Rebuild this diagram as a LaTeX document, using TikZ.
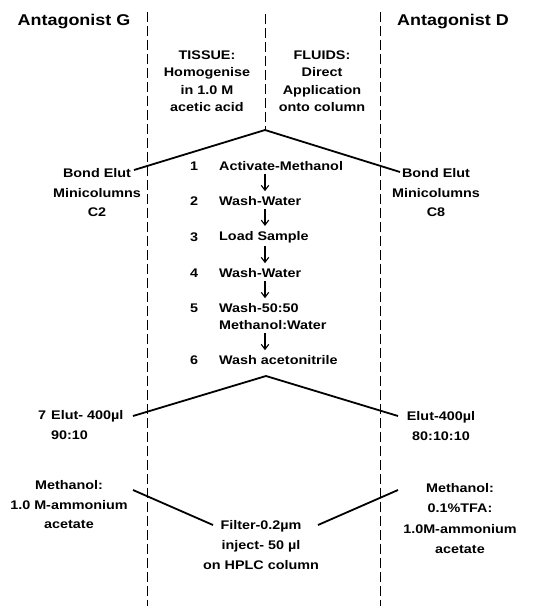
\documentclass[tikz,border=0pt]{standalone}
\usepackage{fontspec}
\setmainfont{Liberation Sans}[FakeStretch=1.15]
\usetikzlibrary{arrows.meta}

\begin{document}
\begin{tikzpicture}[x=1pt,y=-1pt,
  head/.style={font=\fontsize{15.6}{18}\selectfont\bfseries, inner sep=1pt},
  lbl/.style={font=\fontsize{12.5}{17.5}\selectfont\bfseries, inner sep=1pt, align=center},
  side/.style={font=\fontsize{12.5}{20}\selectfont\bfseries, inner sep=1pt, align=center},
  stepno/.style={font=\fontsize{12.5}{14}\selectfont\bfseries, inner sep=1pt},
  steptxt/.style={font=\fontsize{12.5}{17}\selectfont\bfseries, inner sep=3pt, anchor=west, align=left},
  divider/.style={line width=1pt, dash pattern=on 10pt off 4pt},
  roof/.style={line width=1.8pt, line join=miter},
  flowarr/.style={line width=1.1pt, shorten >=2pt, -{Straight Barb[length=5pt,width=7.5pt,line width=1.1pt]}}]
\useasboundingbox (0,0) rectangle (543,606);

% column dividers
\draw[divider] (147,12) -- (147,606);
\draw[divider] (380,12) -- (380,606);
\coordinate (topA) at (265,130);
\draw[divider] (265,14) -- (topA);

% headings
\node[head] (antG) at (74,21) {Antagonist G};
\node[head] (antD) at (453,21) {Antagonist D};
\node[lbl] (tissue) at (207,81) {TISSUE:\\Homogenise\\in 1.0 M\\acetic acid};
\node[lbl] (fluids) at (322,81) {FLUIDS:\\Direct\\Application\\onto column};

% columns
\node[side,font=\fontsize{12.5}{19.5}\selectfont\bfseries] (bondG) at (97,193) {Bond Elut\\Minicolumns\\C2};
\node[side,font=\fontsize{12.5}{19.5}\selectfont\bfseries] (bondD) at (436,193) {Bond Elut\\Minicolumns\\C8};
\coordinate (roofGa) at (134,170);
\coordinate (roofDa) at (400,172);
\draw[roof] (roofGa) -- (topA) -- (roofDa);

% steps
\foreach \n/\y in {1/166,2/201,3/237,4/273,5/308,6/360}
  \node[stepno] (n\n) at (194,\y) {\n};
\node[steptxt] (s1) at (216,166) {Activate-Methanol};
\node[steptxt] (s2) at (216,201) {Wash-Water};
\node[steptxt] (s3) at (216,237) {Load Sample};
\node[steptxt] (s4) at (216,273) {Wash-Water};
\node[steptxt] (s5) at (216,316.5) {Wash-50:50\\Methanol:Water};
\node[steptxt] (s6) at (216,360) {Wash acetonitrile};
\foreach \a/\b in {s1/s2,s2/s3,s3/s4,s4/s5,s5/s6}
  \draw[flowarr] ([xshift=49]\a.south west) -- ([xshift=49]\b.north west);

% elution
\node[stepno] (n7) at (42,415) {7};
\node[side,anchor=west,align=left] (elutG) at (50,425) {Elut- 400µl\\90:10};
\node[side] (elutD) at (441,426) {Elut-400µl\\80:10:10};
\coordinate (topB) at (266,376);
\coordinate (roofGb) at (133,416);
\coordinate (roofDb) at (398,416);
\draw[roof] (roofGb) -- (topB) -- (roofDb);

% solvents and injection
\node[side,font=\fontsize{12.5}{19.5}\selectfont\bfseries] (methG) at (69,505) {Methanol:\\1.0 M-ammonium\\acetate};
\node[side,font=\fontsize{12.5}{20.5}\selectfont\bfseries] (methD) at (460,518.5) {Methanol:\\0.1\%TFA:\\1.0M-ammonium\\acetate};
\node[side] (filter) at (261,545) {Filter-0.2µm\\inject- 50 µl\\on HPLC column};
\coordinate (vGa) at (133,490);
\coordinate (vGb) at (213,525);
\coordinate (vDa) at (318,525);
\coordinate (vDb) at (398,490);
\draw[roof] (vGa) -- (vGb);
\draw[roof] (vDa) -- (vDb);
\end{tikzpicture}
\end{document}
